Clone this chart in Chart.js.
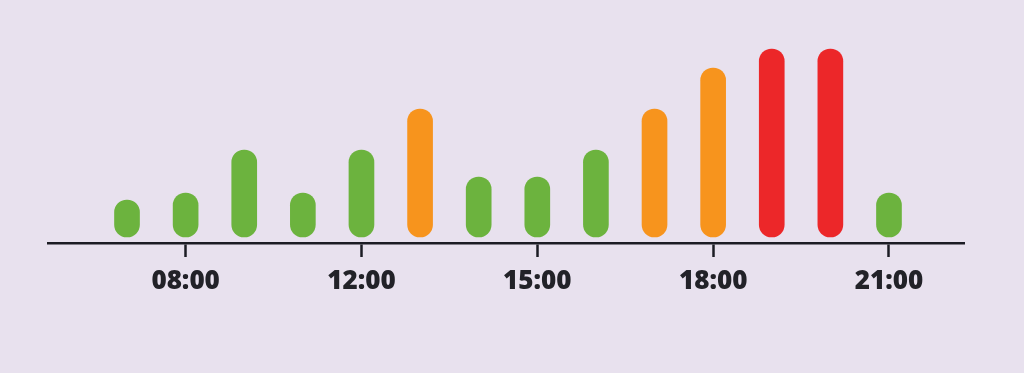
<!DOCTYPE html>
<html>
<head>
<meta charset="utf-8">
<script src="https://cdn.jsdelivr.net/npm/chart.js@4/dist/chart.umd.min.js"></script>
<style>
  html, body { margin: 0; padding: 0; background: #e8e1ee; }
  #wrap { width: 1024px; height: 373px; }
</style>
</head>
<body>
<div id="wrap"><canvas id="chart"></canvas></div>
<script>
// one bar per slot, only some slots carry a time label
const slots = [0, 1, 2, 3, 4, 5, 6, 7, 8, 9, 10, 11, 12, 13];
const labels = ['', '08:00', '', '', '12:00', '', '', '15:00', '', '', '18:00', '', '', '21:00'];
const values = [37, 44, 87, 44, 87, 128, 60, 60, 87, 128, 169, 188, 188, 44];
const levels = ['low', 'low', 'low', 'low', 'low', 'mid', 'low', 'low', 'low', 'mid', 'mid', 'high', 'high', 'low'];

const colors = { low: '#6cb33e', mid: '#f7941d', high: '#ec2729' };

new Chart(document.getElementById('chart'), {
    type: 'bar',
    data: {
        datasets: [{
            data: slots.map((s, i) => ({x: s, y: values[i]})),
            backgroundColor: levels.map(l => colors[l]),
            barThickness: 25,
            borderRadius: 12.5,
            borderSkipped: false
        }]
    },
    options: {
        responsive: true,
        maintainAspectRatio: false,
        animation: false,
        layout: {padding: {left: 48, right: 60, top: 40, bottom: 0}},
        plugins: {legend: {display: false}, tooltip: {enabled: false}},
        scales: {
            x: {
                type: 'linear',
                offset: false,
                min: -1.348,
                max: 14.28,
                afterBuildTicks: s => { s.ticks = slots.filter(i => labels[i]).map(v => ({value: v})); },
                afterFit: s => { s.height = 130; },
                border: {display: true, color: '#1c1c24', width: 2.5},
                grid: {offset: false, drawOnChartArea: false, drawTicks: true, tickLength: 14, tickWidth: 2.5, tickColor: '#1c1c24'},
                ticks: {
                    autoSkip: false,
                    maxRotation: 0,
                    padding: 9,
                    color: '#222228',
                    font: {family: 'Open Sans', size: 26, weight: 800},
                    callback: v => labels[v]
                }
            },
            y: {display: false, min: -6, max: 197}
        }
    }
});
</script>
</body>
</html>
